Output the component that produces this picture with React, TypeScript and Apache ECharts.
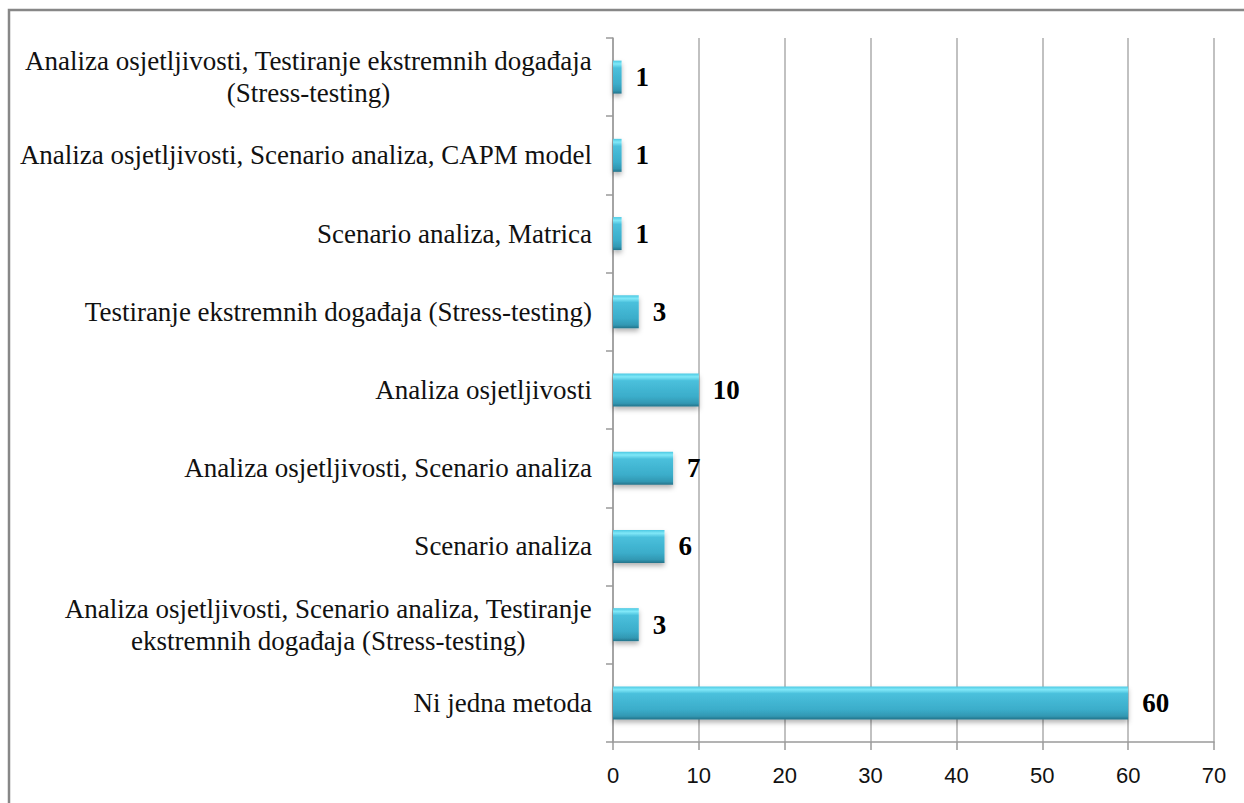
import React, { useEffect, useRef } from "react";
import * as echarts from "echarts";

const categories: string[] = [
  "Analiza osjetljivosti, Testiranje ekstremnih događaja\n(Stress-testing)",
  "Analiza osjetljivosti, Scenario analiza, CAPM model",
  "Scenario analiza, Matrica",
  "Testiranje ekstremnih događaja (Stress-testing)",
  "Analiza osjetljivosti",
  "Analiza osjetljivosti, Scenario analiza",
  "Scenario analiza",
  "Analiza osjetljivosti, Scenario analiza, Testiranje\nekstremnih događaja (Stress-testing)",
  "Ni jedna metoda",
];
const values: number[] = [1, 1, 1, 3, 10, 7, 6, 3, 60];
const xTicks: number[] = [0, 10, 20, 30, 40, 50, 60, 70];

export default function App() {
  const ref = useRef<HTMLDivElement>(null);
  useEffect(() => {
    if (!ref.current) return;
    const chart = echarts.init(ref.current, undefined, { renderer: "svg" });
    const serif = "'Liberation Serif', 'Times New Roman', serif";
    chart.setOption({
      animation: false,
      backgroundColor: "#ffffff",
      graphic: [
        {
          type: "rect",
          shape: { x: 9, y: 10, width: 1400, height: 1000 },
          style: { fill: "none", stroke: "#878787", lineWidth: 2.5 },
          silent: true,
        },
      ],
      grid: { left: 613, right: 30, top: 38, bottom: 61, containLabel: false },
      xAxis: {
        type: "value",
        min: xTicks[0],
        max: xTicks[xTicks.length - 1],
        interval: 10,
        axisLine: { show: true, lineStyle: { color: "#9a9a9a", width: 1.5 } },
        axisTick: { show: true, length: 8, lineStyle: { color: "#9a9a9a", width: 1.5 } },
        axisLabel: {
          margin: 22,
          fontFamily: "'Liberation Sans', Arial, sans-serif",
          fontSize: 22,
          color: "#111",
        },
        splitLine: { show: true, lineStyle: { color: "#adadad", width: 1.5 } },
      },
      yAxis: {
        type: "category",
        inverse: true,
        data: categories,
        axisLine: { show: true, lineStyle: { color: "#9a9a9a", width: 1.5 } },
        axisTick: { show: true, length: 7, lineStyle: { color: "#9a9a9a", width: 1.5 } },
        axisLabel: {
          margin: 21,
          align: "right",
          fontFamily: serif,
          fontSize: 27,
          lineHeight: 32,
          color: "#111",
          formatter: (v: string) =>
            v
              .split("\n")
              .map((l) => "{c|" + l + "}")
              .join("\n"),
          rich: {
            c: {
              align: "center",
              fontFamily: serif,
              fontSize: 27,
              lineHeight: 32,
              color: "#111",
            },
          },
        },
      },
      series: [
        {
          type: "bar",
          data: values,
          barWidth: 33,
          itemStyle: {
            color: new echarts.graphic.LinearGradient(0, 0, 0, 1, [
              { offset: 0, color: "#4cc8e2" },
              { offset: 0.1, color: "#80e8f8" },
              { offset: 0.22, color: "#4ac0dc" },
              { offset: 0.7, color: "#3badca" },
              { offset: 0.9, color: "#3298b3" },
              { offset: 1, color: "#24738a" },
            ]),
            shadowBlur: 5,
            shadowColor: "rgba(0,0,0,0.3)",
            shadowOffsetY: 3,
          },
          label: {
            show: true,
            position: "right",
            distance: 14,
            fontFamily: serif,
            fontWeight: "bold",
            fontSize: 27,
            color: "#000",
          },
        },
      ],
    });
    return () => chart.dispose();
  }, []);
  return (
    <div
      ref={ref}
      style={{ position: "absolute", left: 0, top: 0, width: 1244, height: 803 }}
    />
  );
}
